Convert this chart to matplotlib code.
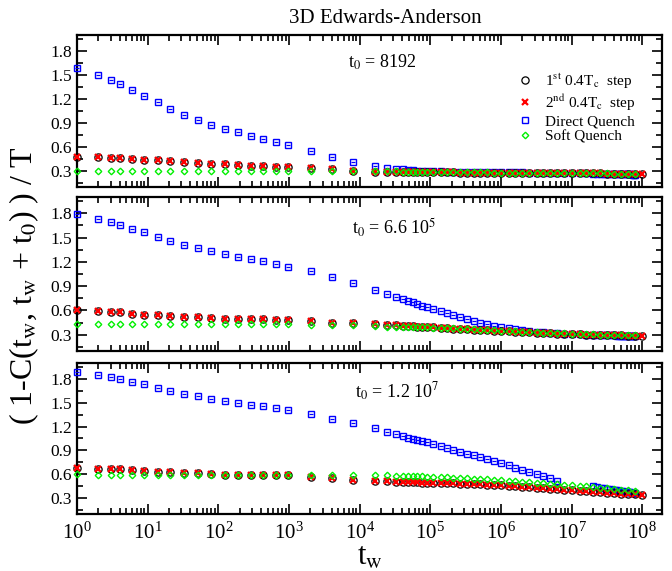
import numpy as np
import matplotlib
matplotlib.use('Agg')
import matplotlib.pyplot as plt
from matplotlib.ticker import MultipleLocator, FixedLocator, LogLocator, NullFormatter

plt.rcParams['font.family'] = ['Liberation Serif', 'DejaVu Serif']
plt.rcParams['mathtext.fontset'] = 'stix'

# waiting times t_w (shared grid)
tw = [1, 2, 3, 4, 6, 9, 14, 21, 33, 52, 80, 125, 190, 290, 430, 650, 980,
      2048, 4096, 8192, 16384, 24576, 32768, 40960, 49152, 57344, 65536,
      77000, 90000, 1.1e5, 1.4e5, 1.7e5, 2.1e5, 2.6e5, 3.3e5, 4.1e5, 5.1e5,
      6.4e5, 8.0e5, 1.0e6, 1.3e6, 1.6e6, 2.0e6, 2.5e6, 3.2e6, 4.0e6, 5.0e6,
      6.3e6, 7.9e6, 1.0e7, 1.3e7, 1.6e7, 2.0e7, 2.5e7, 3.2e7, 4.0e7, 5.0e7,
      6.3e7, 7.9e7, 1.0e8]
# dense late direct-quench run (units of 1e6)
tw_late = [20, 23, 26, 29, 32, 35, 38, 41, 44, 47, 50, 53, 56, 59, 62, 65,
           68, 71, 74, 77, 80]
decades = [1, 1e1, 1e2, 1e3, 1e4, 1e5, 1e6, 1e7, 1e8]

# ---- t0 = 8192
steps_p1 = [0.48, 0.47, 0.462, 0.457, 0.45, 0.443, 0.432, 0.42, 0.41, 0.40,
            0.39, 0.382, 0.373, 0.365, 0.36, 0.355, 0.35, 0.335, 0.32, 0.305,
            0.29, 0.287, 0.286, 0.286, 0.285, 0.285, 0.285, 0.284, 0.284,
            0.283, 0.283, 0.282, 0.282, 0.281, 0.281, 0.280, 0.280, 0.279,
            0.279, 0.278, 0.278, 0.277, 0.277, 0.276, 0.275, 0.275, 0.274,
            0.273, 0.273, 0.272, 0.271, 0.270, 0.270, 0.269, 0.268, 0.267,
            0.266, 0.265, 0.264, 0.263]
direct_p1 = [1.59, 1.50, 1.435, 1.39, 1.31, 1.24, 1.16, 1.08, 1.00, 0.94,
             0.88, 0.83, 0.785, 0.74, 0.70, 0.66, 0.62, 0.55, 0.48, 0.41,
             0.36, 0.34, 0.33, 0.32, 0.315, 0.31, 0.305, 0.30, 0.298,
             0.295, 0.294, 0.293, 0.292, 0.291, 0.29, 0.289, 0.288, 0.287,
             0.286, 0.285, 0.284, 0.283, 0.282, 0.281, 0.28, 0.279, 0.278,
             0.277, 0.276, 0.275, 0.274, 0.273]
direct_late_p1 = [0.265, 0.265, 0.264, 0.264, 0.263, 0.263, 0.262, 0.262,
                  0.261, 0.261, 0.260, 0.260, 0.259, 0.259, 0.258, 0.258,
                  0.257, 0.257, 0.256, 0.256, 0.255]
soft_p1 = [0.30, 0.30, 0.30, 0.30, 0.30, 0.30, 0.30, 0.30, 0.30, 0.30,
           0.30, 0.30, 0.30, 0.30, 0.30, 0.30, 0.30, 0.30, 0.299, 0.298,
           0.296, 0.295, 0.294, 0.293, 0.292, 0.291, 0.29, 0.29, 0.289,
           0.288, 0.287, 0.286, 0.286, 0.285, 0.284, 0.283, 0.283, 0.282,
           0.281, 0.280, 0.280, 0.279, 0.278, 0.277, 0.277, 0.276, 0.275,
           0.274, 0.274, 0.273, 0.272, 0.271, 0.271, 0.270, 0.269, 0.268,
           0.268, 0.267, 0.266]

# ---- t0 = 6.6 10^5
steps_p2 = [0.60, 0.59, 0.58, 0.578, 0.56, 0.55, 0.54, 0.53, 0.52, 0.515,
            0.508, 0.50, 0.497, 0.493, 0.49, 0.488, 0.485, 0.468, 0.45, 0.44,
            0.43, 0.42, 0.415, 0.41, 0.406, 0.403, 0.40, 0.397, 0.393, 0.39,
            0.385, 0.38, 0.376, 0.372, 0.367, 0.362, 0.358, 0.354, 0.35,
            0.346, 0.342, 0.338, 0.334, 0.33, 0.326, 0.322, 0.318, 0.315,
            0.312, 0.309, 0.306, 0.303, 0.300, 0.298, 0.296, 0.294, 0.292,
            0.29, 0.288, 0.286]
direct_p2 = [1.79, 1.727, 1.69, 1.66, 1.61, 1.57, 1.51, 1.46, 1.41, 1.37,
             1.33, 1.30, 1.26, 1.23, 1.205, 1.176, 1.14, 1.085, 1.015, 0.94,
             0.857, 0.80, 0.77, 0.745, 0.72, 0.70, 0.68, 0.66, 0.64, 0.615,
             0.59, 0.565, 0.543, 0.518, 0.49, 0.472, 0.451, 0.428, 0.41,
             0.394, 0.38, 0.369, 0.356, 0.348, 0.34, 0.332, 0.325, 0.318,
             0.313, 0.308, 0.304, 0.30]
direct_late_p2 = [0.295, 0.295, 0.294, 0.294, 0.293, 0.293, 0.292, 0.292,
                  0.291, 0.291, 0.290, 0.290, 0.289, 0.289, 0.288, 0.288,
                  0.287, 0.287, 0.286, 0.286, 0.285]
soft_p2 = [0.43, 0.43, 0.43, 0.43, 0.43, 0.43, 0.43, 0.43, 0.43, 0.43,
           0.43, 0.43, 0.43, 0.428, 0.428, 0.428, 0.427, 0.425, 0.42, 0.415,
           0.405, 0.40, 0.398, 0.396, 0.395, 0.394, 0.393, 0.392, 0.39,
           0.388, 0.385, 0.382, 0.379, 0.376, 0.372, 0.368, 0.364, 0.36,
           0.356, 0.352, 0.348, 0.344, 0.34, 0.336, 0.332, 0.328, 0.324,
           0.32, 0.317, 0.314, 0.311, 0.308, 0.305, 0.302, 0.30, 0.298,
           0.296, 0.294, 0.292]

# ---- t0 = 1.2 10^7
steps_p3 = [0.683, 0.67, 0.665, 0.662, 0.65, 0.64, 0.633, 0.625, 0.617,
            0.61, 0.603, 0.596, 0.593, 0.59, 0.588, 0.587, 0.585, 0.563,
            0.55, 0.53, 0.513, 0.51, 0.507, 0.504, 0.502, 0.50, 0.498,
            0.496, 0.494, 0.492, 0.49, 0.487, 0.484, 0.481, 0.478, 0.475,
            0.472, 0.469, 0.466, 0.46, 0.454, 0.448, 0.442, 0.436, 0.43,
            0.424, 0.418, 0.412, 0.406, 0.40, 0.394, 0.388, 0.382, 0.376,
            0.37, 0.364, 0.358, 0.352, 0.346, 0.34]
direct_p3 = [1.89, 1.853, 1.82, 1.80, 1.767, 1.73, 1.69, 1.65, 1.61, 1.58,
             1.55, 1.52, 1.50, 1.477, 1.456, 1.43, 1.41, 1.357, 1.30, 1.24,
             1.18, 1.13, 1.105, 1.08, 1.06, 1.047, 1.03, 1.015, 1.00, 0.975,
             0.95, 0.93, 0.905, 0.885, 0.86, 0.84, 0.82, 0.795, 0.768,
             0.74, 0.712, 0.683, 0.654, 0.63, 0.60, 0.575, 0.55, 0.52]
direct_late_p3 = [0.45, 0.441, 0.433, 0.426, 0.419, 0.413, 0.408, 0.403,
                  0.399, 0.394, 0.39, 0.387, 0.383, 0.38, 0.377, 0.374,
                  0.371, 0.368, 0.365, 0.363, 0.36]
soft_p3 = [0.60, 0.585, 0.585, 0.585, 0.585, 0.585, 0.585, 0.585, 0.585,
           0.585, 0.585, 0.585, 0.585, 0.585, 0.585, 0.585, 0.585, 0.585,
           0.588, 0.59, 0.59, 0.585, 0.582, 0.58, 0.578, 0.576, 0.574,
           0.572, 0.57, 0.567, 0.563, 0.56, 0.556, 0.552, 0.548, 0.544,
           0.54, 0.535, 0.53, 0.525, 0.52, 0.514, 0.508, 0.502, 0.496,
           0.49, 0.483, 0.476, 0.469, 0.462, 0.455, 0.447, 0.44, 0.432,
           0.424, 0.416, 0.408, 0.40, 0.392]

panels = [
    (steps_p1, direct_p1, direct_late_p1, soft_p1, r"t$_0$ = 8192"),
    (steps_p2, direct_p2, direct_late_p2, soft_p2, r"t$_0$ = 6.6 10$^5$"),
    (steps_p3, direct_p3, direct_late_p3, soft_p3, r"t$_0$ = 1.2 10$^7$"),
]
rects = [(0.1146, 0.6725, 0.8704, 0.2662),
         (0.1146, 0.3853, 0.8704, 0.2697),
         (0.1146, 0.0998, 0.8704, 0.2645)]

fig = plt.figure(figsize=(6.72, 5.71), dpi=100)
tw_late_abs = [v * 1e6 for v in tw_late]

for k, (steps, direct, direct_late, soft, label) in enumerate(panels):
    ax = fig.add_axes(rects[k])
    x = np.array(tw)
    hd, = ax.plot(x[:len(direct)], direct, ls='none', marker='s', ms=4.2,
                  mfc='none', mec='#0000ff', mew=1.0, clip_on=False, zorder=3)
    ax.plot(x[:len(direct)], direct, ls='none', marker='_', ms=3,
            mec='#0000ff', mew=0.9, clip_on=False, zorder=3)
    ax.plot(tw_late_abs, direct_late, ls='none', marker='s', ms=4.2,
            mfc='none', mec='#0000ff', mew=1.0, clip_on=False, zorder=3)
    h1, = ax.plot(x[:len(steps)], steps, ls='none', marker='o', ms=5.2,
                  mfc='none', mec='black', mew=0.9, clip_on=False, zorder=4)
    h2, = ax.plot(x[:len(steps)], steps, ls='none', marker='x', ms=3.8,
                  mec='#ff0000', mew=1.6, clip_on=False, zorder=5)
    hs, = ax.plot(x[:len(soft)], soft, ls='none', marker='D', ms=3.3,
                  mfc='none', mec='#00f000', mew=1.0, clip_on=False, zorder=6)

    ax.set_xscale('log')
    ax.xaxis.set_major_locator(FixedLocator(decades))
    ax.xaxis.set_minor_locator(LogLocator(base=10, subs=np.arange(2, 10), numticks=20))
    ax.xaxis.set_minor_formatter(NullFormatter())
    ax.set_xlim(1, 1.9e8)
    ax.set_ylim(0.1, 2.0)
    ax.yaxis.set_major_locator(MultipleLocator(0.3))
    ax.yaxis.set_minor_locator(MultipleLocator(0.15))
    ax.tick_params(which='both', direction='in', top=True, right=True, width=1.2)
    ax.tick_params(which='major', length=7, labelsize=12.5)
    ax.tick_params(which='minor', length=4)
    ax.tick_params(axis='x', labelsize=15, pad=6)
    for sp in ax.spines.values():
        sp.set_linewidth(1.6)
    if k < 2:
        ax.tick_params(axis='x', labelbottom=False)

    ax.text([0.463, 0.47, 0.475][k], [0.82, 0.80, 0.81][k], label,
            transform=ax.transAxes, fontsize=13, ha='left', va='center')

    if k == 0:
        ax.legend([h1, h2, hd, hs],
                  [r"1$^{\mathrm{st}}$ 0.4T$_{\mathrm{c}}$  step",
                   r"2$^{\mathrm{nd}}$ 0.4T$_{\mathrm{c}}$  step",
                   "Direct Quench", "Soft Quench"],
                  loc='upper left', bbox_to_anchor=(0.735, 0.83),
                  frameon=False, fontsize=11, handlelength=1.0,
                  handletextpad=0.8, labelspacing=0.12, borderpad=0.2)

fig.text(0.573, 0.967, "3D Edwards-Anderson", fontsize=15, ha='center', va='center')
fig.text(0.036, 0.5, r"( 1-C(t$_{\mathrm{w}}$, t$_{\mathrm{w}}$ + t$_0$) ) / T",
         fontsize=23, rotation=90, ha='center', va='center')
fig.text(0.55, 0.024, r"t$_{\mathrm{w}}$", fontsize=22, ha='center', va='center')

fig.savefig('out.png', dpi=100)
